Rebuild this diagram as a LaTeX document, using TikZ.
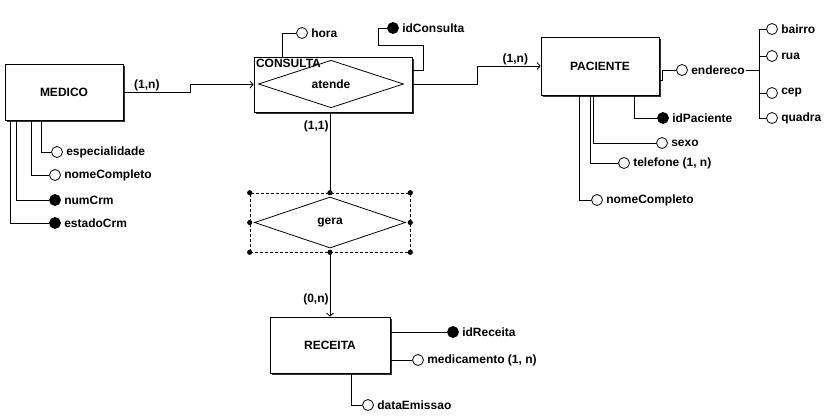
\documentclass[tikz,border=0pt]{standalone}
\usepackage{fontspec}
\setmainfont{Liberation Sans}
\usetikzlibrary{shapes.geometric}
\usetikzlibrary{arrows.meta,shadows}

\begin{document}
\begin{tikzpicture}
[x=1pt,y=-1pt,
font=\fontsize{12}{14}\selectfont\bfseries,
line width=0.8pt,
entity/.style ={rectangle, draw, fill=white,
minimum width=118pt, minimum height=56pt,
drop shadow={shadow xshift=2pt,shadow yshift=-2pt,fill=black!80,opacity=1}},
relation/.style={diamond, draw, fill=white, inner sep=0pt},
circ/.style ={circle, draw, fill=white, minimum size=11pt, inner sep=0pt},
attrlbl/.style ={label distance=2pt, inner sep=1pt},
attr/.style ={circ, label={[attrlbl]right:#1}},
keyattr/.style ={attr={#1}, fill=black},
card/.style ={inner sep=1pt},
arrowed/.style ={-{Straight Barb[length=3pt,width=7pt]}}]
\useasboundingbox (0,0) rectangle (834,416);
% entities
\node [entity] (medico) at (64,92) {MEDICO};
\node [entity, minimum width=158pt, minimum height=55pt] (consulta) at (333,84.5) {};
\node [relation, minimum width=145pt, minimum height=41pt] (atende) at (331,84) {atende};
\node [anchor=north west, inner sep=2pt] (consultatxt) at (consulta.north west) {CONSULTA};
\node [entity, minimum height=58pt] (paciente) at (600,66) {PACIENTE};
\node [entity, minimum width=120pt] (receita) at (330,345) {RECEITA};
% relationship gera (selected)
\node [draw, dash pattern=on 3pt off 2pt, line width=0.6pt,
minimum width=160pt, minimum height=59pt] (gerabox) at (330,222.5) {};
\node [relation, minimum width=151pt, minimum height=51pt] (gera) at (330,222.5) {gera};
\foreach \a in {north west,north,north east,east,south east,south,south west,west}
  \fill (gerabox.\a) circle (2.6pt);
% connectors
\draw [arrowed] (medico.east) -- node[card, above, pos=0.35] {(1,n)} ++(67,0) |- (consulta.west);
\draw [arrowed] (consulta.east) -- ++(65,0) |- node[card, above, pos=0.8] {(1,n)} (paciente.west);
\draw (consulta.south -| gerabox.north) -- node[card, left, pos=0.18] {(1,1)} (gerabox.north);
\draw [arrowed] (gerabox.south) -- node[card, left, pos=0.74] {(0,n)} (receita.north);
% MEDICO attributes
\node [attr=especialidade] (mesp) at (57,152) {};
\node [attr=nomeCompleto] (mnome) at (55,175) {};
\node [keyattr=numCrm] (mnum) at (55,200) {};
\node [keyattr=estadoCrm] (mest) at (55,223) {};
\draw ([xshift=37pt]medico.south west) |- (mesp);
\draw ([xshift=27pt]medico.south west) |- (mnome);
\draw ([xshift=12pt]medico.south west) |- (mnum);
\draw ([xshift=6pt]medico.south west) |- (mest);
% CONSULTA attributes
\node [attr=hora] (hora) at (302,33) {};
\node [keyattr=idConsulta] (idcons) at (393,28) {};
\draw ([xshift=29pt]consulta.north west) |- (hora);
\draw (idcons) -| ++(-15,17) -| ++(45,25) -- ([yshift=14.5pt]consulta.east);
% PACIENTE attributes
\node [circ, label={[attrlbl,name=endtxt]right:endereco}] (ender) at (682,70) {};
\draw ([yshift=-14pt]paciente.east) -- ++(3,0) |- (ender);
\coordinate (hub) at (759,70);
\draw (endtxt.east) -- (hub);
\node [attr=bairro] (bairro) at (772,29) {};
\node [attr=rua] (rua) at (772,56) {};
\node [attr=cep] (cep) at (772,93) {};
\node [attr=quadra] (quadra) at (772,118) {};
\foreach \s in {bairro,rua,cep,quadra}
  \draw (hub) |- (\s);
\node [keyattr=idPaciente] (pid) at (663,118) {};
\node [attr=sexo] (psexo) at (662,143) {};
\node [attr={telefone (1, n)}] (ptel) at (624,163) {};
\node [attr=nomeCompleto] (pnome) at (597,200) {};
\draw ([xshift=94pt]paciente.south west) |- (pid);
\draw ([xshift=53pt]paciente.south west) |- (psexo);
\draw ([xshift=50pt]paciente.south west) |- (ptel);
\draw ([xshift=39pt]paciente.south west) |- (pnome);
% RECEITA attributes
\node [keyattr=idReceita] (rid) at (453,332) {};
\node [attr={medicamento (1, n)}] (rmed) at (418,360) {};
\node [attr=dataEmissao] (rdata) at (368,405) {};
\draw (rid -| receita.east) -- (rid);
\draw (rmed -| receita.east) -- (rmed);
\draw ([xshift=82pt]receita.south west) |- (rdata);
\end{tikzpicture}
\end{document}
